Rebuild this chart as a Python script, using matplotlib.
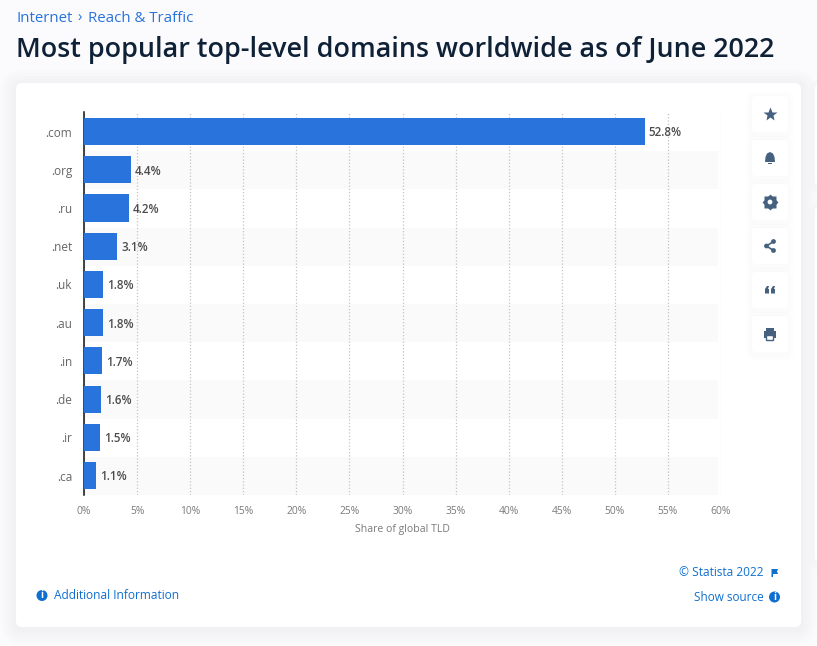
import matplotlib.pyplot as plt
from matplotlib.patches import Circle, FancyBboxPatch, Polygon, Rectangle

W, H = 817, 646

domains = ['.com', '.org', '.ru', '.net', '.uk', '.au', '.in', '.de', '.ir', '.ca']
shares = [52.8, 4.4, 4.2, 3.1, 1.8, 1.8, 1.7, 1.6, 1.5, 1.1]
x_ticks = [0, 5, 10, 15, 20, 25, 30, 35, 40, 45, 50, 55, 60]

BLUE = '#2873dc'
LINK = '#0f6fd0'
ICON = '#45617f'

plt.rcParams['font.family'] = ['Open Sans', 'DejaVu Sans']


def rounded_box(bg, x0, y0, x1, y1, radius, shadow=5, **kw):
    # fake the css box-shadow with a few faint boxes
    for i in range(shadow, 0, -1):
        grow = i * 3
        bg.add_patch(FancyBboxPatch((x0 - grow, y0 - grow + 2), x1 - x0 + 2 * grow, y1 - y0 + 2 * grow,
                                    boxstyle=f'round,pad=0,rounding_size={radius + grow}',
                                    fc='#8090b0', ec='none', alpha=0.014))
    bg.add_patch(FancyBboxPatch((x0, y0), x1 - x0, y1 - y0,
                                boxstyle=f'round,pad=0,rounding_size={radius}',
                                fc='white', ec='none', **kw))


def info_icon(bg, x, y):
    bg.add_patch(Circle((x, y), 5.5, fc=LINK, ec='none'))
    bg.text(x, y + 0.2, 'i', color='white', fontsize=7, fontweight='bold', ha='center', va='center')


def draw_page(bg):
    bg.text(16, 18.5, 'Internet', color=BLUE, fontsize=10.8, va='center')
    bg.text(77, 18.5, '›', color=BLUE, fontsize=10.8, va='center')
    bg.text(88.5, 18.5, 'Reach & Traffic', color=BLUE, fontsize=10.8, va='center')
    bg.text(16, 50.5, 'Most popular top-level domains worldwide as of June 2022',
            color='#0f2137', fontsize=19.4, fontweight='semibold', va='center')

    rounded_box(bg, 16, 83, 801, 627, 6)
    # edge of the next panel, cut off by the screenshot
    rounded_box(bg, 815, 83, 860, 187, 6, shadow=2)
    rounded_box(bg, 815, 205, 860, 563, 6, shadow=2)

    for i in range(6):
        rounded_box(bg, 752, 96 + i * 44, 788, 132 + i * 44, 4, shadow=2)
    centers = [114 + i * 44 for i in range(6)]
    cx = 770

    # star
    bg.plot(cx, centers[0], marker='*', ms=10.5, color=ICON, mec='none')
    # bell
    y = centers[1]
    bg.add_patch(Polygon([(cx - 5, y + 4), (cx - 4.5, y - 1), (cx - 3, y - 4.5), (cx, y - 6), (cx + 3, y - 4.5),
                          (cx + 4.5, y - 1), (cx + 5, y + 4)], fc=ICON, ec='none'))
    bg.add_patch(Rectangle((cx - 2, y + 5), 4, 1, fc=ICON, ec='none'))
    # gear
    y = centers[2]
    bg.plot(cx, y, marker='s', ms=8, color=ICON, mec='none')
    bg.plot(cx, y, marker='D', ms=8, color=ICON, mec='none')
    bg.add_patch(Circle((cx, y), 4.8, fc=ICON, ec='none', zorder=4))
    bg.add_patch(Circle((cx, y), 2.4, fc='white', ec='none', zorder=5))
    # share
    y = centers[3]
    bg.plot([cx + 3.5, cx - 3.5, cx + 3.5], [y - 4.5, y, y + 4.5], color=ICON, lw=1.2)
    for dx, dy in [(3.5, -4.5), (-3.5, 0), (3.5, 4.5)]:
        bg.add_patch(Circle((cx + dx, y + dy), 2.4, fc=ICON, ec='none'))
    # quote
    y = centers[4]
    for dx in (-5, 1):
        bg.add_patch(Polygon([(cx + dx, y - 1), (cx + dx + 2, y - 4), (cx + dx + 4, y - 4), (cx + dx + 3, y - 1),
                              (cx + dx + 4, y - 1), (cx + dx + 4, y + 3.5), (cx + dx, y + 3.5)], fc=ICON, ec='none'))
    # printer
    y = centers[5]
    bg.add_patch(Rectangle((cx - 6, y - 3), 12, 7, fc=ICON, ec='none'))
    bg.add_patch(Rectangle((cx - 4, y - 6), 8, 3, fc=ICON, ec='none'))
    bg.add_patch(Rectangle((cx - 3.5, y + 1), 7, 4.5, fc='white', ec=ICON, lw=1, zorder=5))

    bg.text(763.5, 573, '© Statista 2022', color=LINK, fontsize=8.6, ha='right', va='center')
    bg.add_patch(Polygon([(771.5, 569), (778, 569), (777, 571.5), (778, 574), (773, 574), (773, 577), (771.5, 577)],
                         fc=LINK, ec='none'))
    bg.text(763.5, 597.5, 'Show source', color=LINK, fontsize=8.5, ha='right', va='center')
    info_icon(bg, 774.5, 597)
    info_icon(bg, 42, 595.5)
    bg.text(54, 595.5, 'Additional Information', color=LINK, fontsize=8.6, va='center')


fig = plt.figure(figsize=(W / 100, H / 100), dpi=100, facecolor='#fbfbfd')

bg = fig.add_axes([0, 0, 1, 1], zorder=0)
bg.set_xlim(0, W)
bg.set_ylim(H, 0)
bg.axis('off')
draw_page(bg)

left, right, top, bottom = 84, 721, 112.5, 494.7
ax = fig.add_axes([left / W, 1 - bottom / H, (right - left) / W, (bottom - top) / H], zorder=1)
ax.patch.set_alpha(0)

y_pos = list(range(len(domains)))
for i in y_pos:
    if i % 2 == 1:
        ax.axhspan(i - 0.49, i + 0.51, xmax=0.996, color='#fafafa', lw=0, zorder=0)
bars = ax.barh(y_pos, shares, height=0.71, color=BLUE, zorder=3)
value_labels = ax.bar_label(bars, labels=[f'{v}%' for v in shares], padding=3, fontsize=8.4,
                            fontweight='semibold', color='#4c4c4c')
for t in value_labels:
    t.xyann = (t.xyann[0], -1)

ax.set_xlim(0, 60)
ax.set_ylim(len(domains) - 0.5, -0.5)
ax.set_yticks(y_pos, domains, fontsize=8.5, color='#666666')
ax.set_xticks(x_ticks, [f'{v}%' for v in x_ticks], fontsize=7.4, color='#7a7a7a')
ax.tick_params(axis='both', length=0)
ax.tick_params(axis='y', pad=8.6)
ax.tick_params(axis='x', pad=8)
ax.grid(axis='x', linestyle=(0, (1, 1.6)), color='#c4c4c4', linewidth=0.9, zorder=1)
ax.set_axisbelow(True)
ax.set_xlabel('Share of global TLD', fontsize=7.6, color='#7a7a7a', labelpad=5)
for s in ('top', 'right', 'bottom'):
    ax.spines[s].set_visible(False)
ax.spines['left'].set_color('#111111')
ax.spines['left'].set_linewidth(1.1)

fig.savefig('out.png', dpi=100, facecolor=fig.get_facecolor())
